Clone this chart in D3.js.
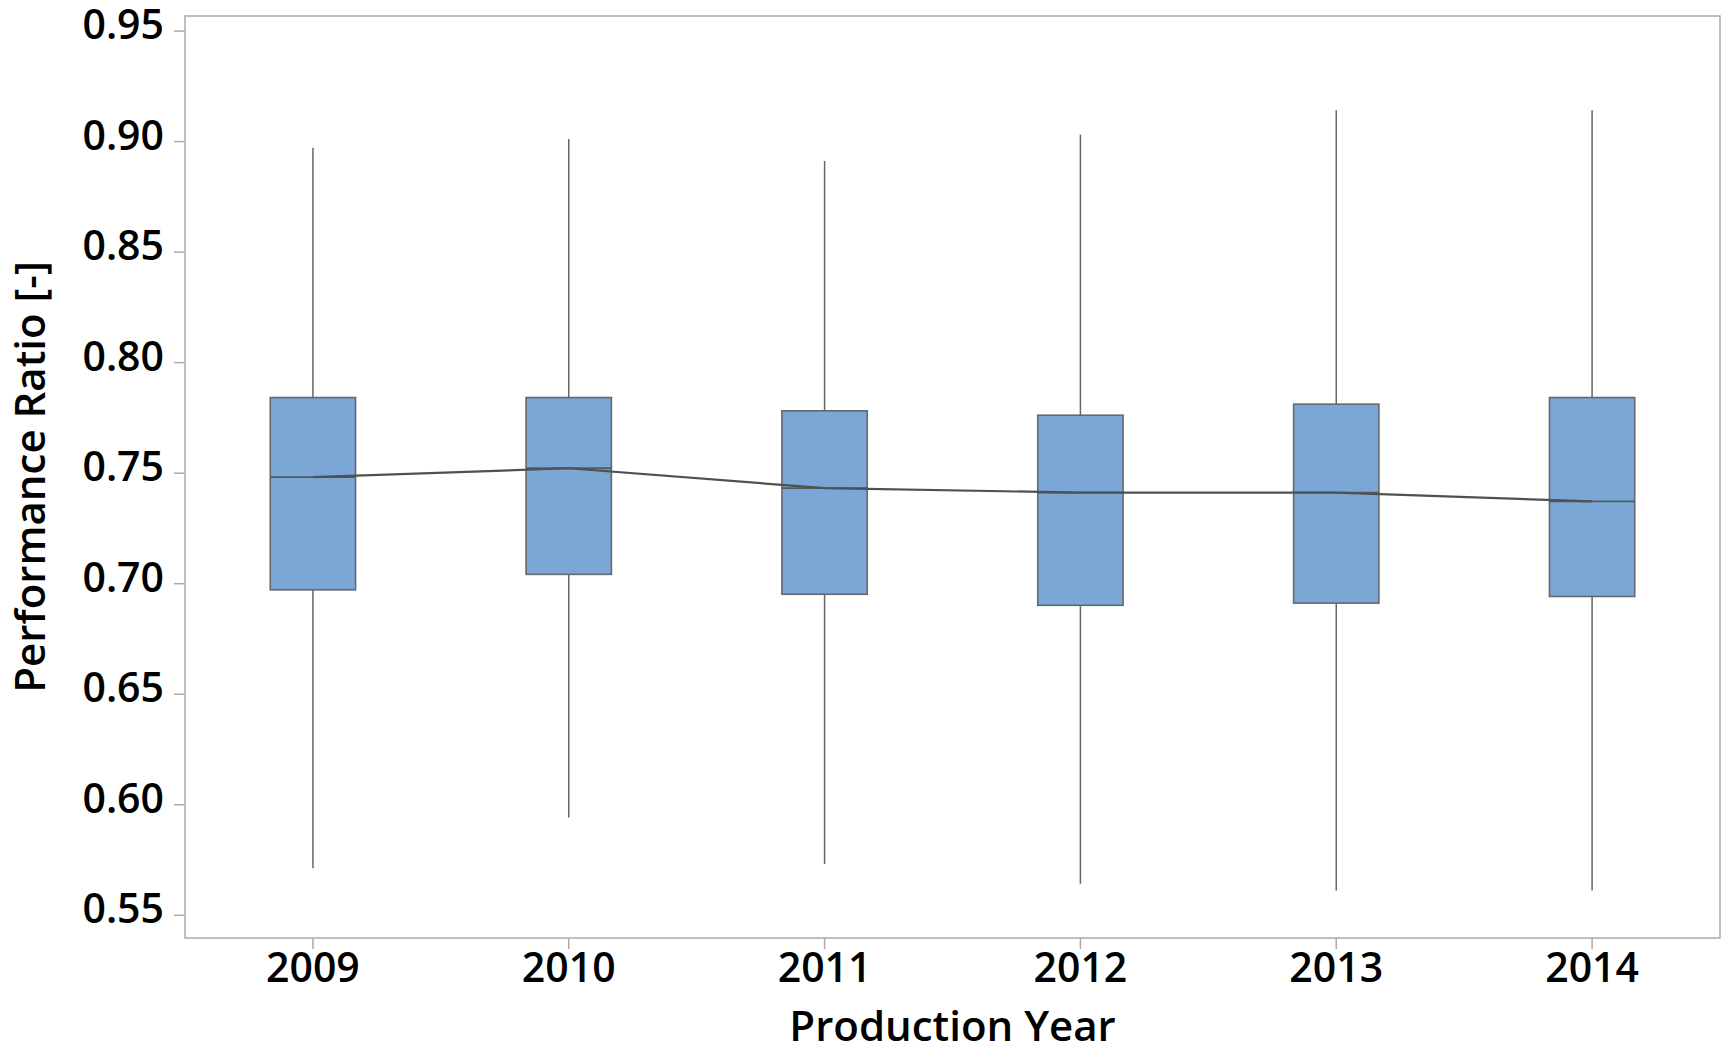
<!DOCTYPE html>
<html>
<head>
<meta charset="utf-8">
<script src="https://cdn.jsdelivr.net/npm/d3@7"></script>
<style>
  body { margin: 0; background: #fff; }
  svg text { font-family: "Open Sans", "Noto Sans", sans-serif; fill: #000; }
</style>
</head>
<body>
<div id="chart"></div>
<script>
const years = ["2009", "2010", "2011", "2012", "2013", "2014"];
const whiskerLow = [0.571, 0.594, 0.573, 0.564, 0.561, 0.561];
const q1 = [0.697, 0.704, 0.695, 0.690, 0.691, 0.694];
const medians = [0.748, 0.752, 0.743, 0.741, 0.741, 0.737];
const q3 = [0.784, 0.784, 0.778, 0.776, 0.781, 0.784];
const whiskerHigh = [0.897, 0.901, 0.891, 0.903, 0.914, 0.914];
const yTicks = [0.55, 0.60, 0.65, 0.70, 0.75, 0.80, 0.85, 0.90, 0.95];

const width = 1723, height = 1047;
const margin = {top: 16, right: 3, bottom: 109, left: 185};
const innerW = width - margin.left - margin.right,
    innerH = height - margin.top - margin.bottom;

const boxes = years.map((y, i) => ({
    year: y, lo: whiskerLow[i], q1: q1[i], med: medians[i], q3: q3[i], hi: whiskerHigh[i]
}));

const svg = d3.select("#chart").append("svg")
    .attr("width", width)
    .attr("height", height);

const g = svg.append("g")
    .attr("transform", "translate(" + margin.left + "," + margin.top + ")");

const x = d3.scaleBand()
    .domain(years)
    .range([0, innerW])
    .paddingInner(0)
    .paddingOuter(0);

const y = d3.scaleLinear()
    .domain([0.5395, 0.9566])
    .range([innerH, 0]);

const boxW = x.bandwidth() / 3;
const cx = d => x(d.year) + x.bandwidth() / 2;

// frame
g.append("rect")
    .attr("width", innerW)
    .attr("height", innerH)
    .attr("fill", "none")
    .attr("stroke", "#ababab")
    .attr("stroke-width", 1.5);

// axes
const yAxis = g.append("g")
    .call(d3.axisLeft(y).tickValues(yTicks).tickFormat(d3.format(".2f")).tickSize(11).tickPadding(10));
const xAxis = g.append("g")
    .attr("transform", "translate(0," + innerH + ")")
    .call(d3.axisBottom(x).tickSize(11).tickPadding(4));

[yAxis, xAxis].forEach(a => {
    a.select(".domain").remove();
    a.selectAll(".tick line").attr("stroke", "#ababab").attr("stroke-width", 1.5);
    a.selectAll(".tick text").attr("font-size", 41).attr("font-weight", 600).attr("fill", "#000");
});
yAxis.selectAll(".tick text").attr("y", -5);

// whiskers
g.append("g").selectAll("line")
    .data(boxes)
    .enter().append("line")
    .attr("x1", cx).attr("x2", cx)
    .attr("y1", d => y(d.hi))
    .attr("y2", d => y(d.lo))
    .attr("stroke", "#666666")
    .attr("stroke-width", 1.5);

// boxes
g.append("g").selectAll("rect")
    .data(boxes)
    .enter().append("rect")
    .attr("x", d => cx(d) - boxW / 2)
    .attr("width", boxW)
    .attr("y", d => y(d.q3))
    .attr("height", d => y(d.q1) - y(d.q3))
    .attr("fill", "#7ba7d7")
    .attr("stroke", "#636870")
    .attr("stroke-width", 1.6);

// medians
g.append("g").selectAll("line")
    .data(boxes)
    .enter().append("line")
    .attr("x1", d => cx(d) - boxW / 2)
    .attr("x2", d => cx(d) + boxW / 2)
    .attr("y1", d => y(d.med))
    .attr("y2", d => y(d.med))
    .attr("stroke", "#555a60")
    .attr("stroke-width", 1.8);

// connect line
g.append("path")
    .datum(boxes)
    .attr("fill", "none")
    .attr("stroke", "#505050")
    .attr("stroke-width", 2.2)
    .attr("d", d3.line().x(cx).y(d => y(d.med)));

// axis titles
svg.append("text")
    .attr("x", margin.left + innerW / 2)
    .attr("y", 1041)
    .attr("text-anchor", "middle")
    .attr("font-size", 42)
    .attr("font-weight", 600)
    .text("Production Year");

svg.append("text")
    .attr("transform", "translate(45," + (margin.top + innerH / 2) + ") rotate(-90)")
    .attr("text-anchor", "middle")
    .attr("font-size", 42)
    .attr("font-weight", 600)
    .text("Performance Ratio [-]");
</script>
</body>
</html>
